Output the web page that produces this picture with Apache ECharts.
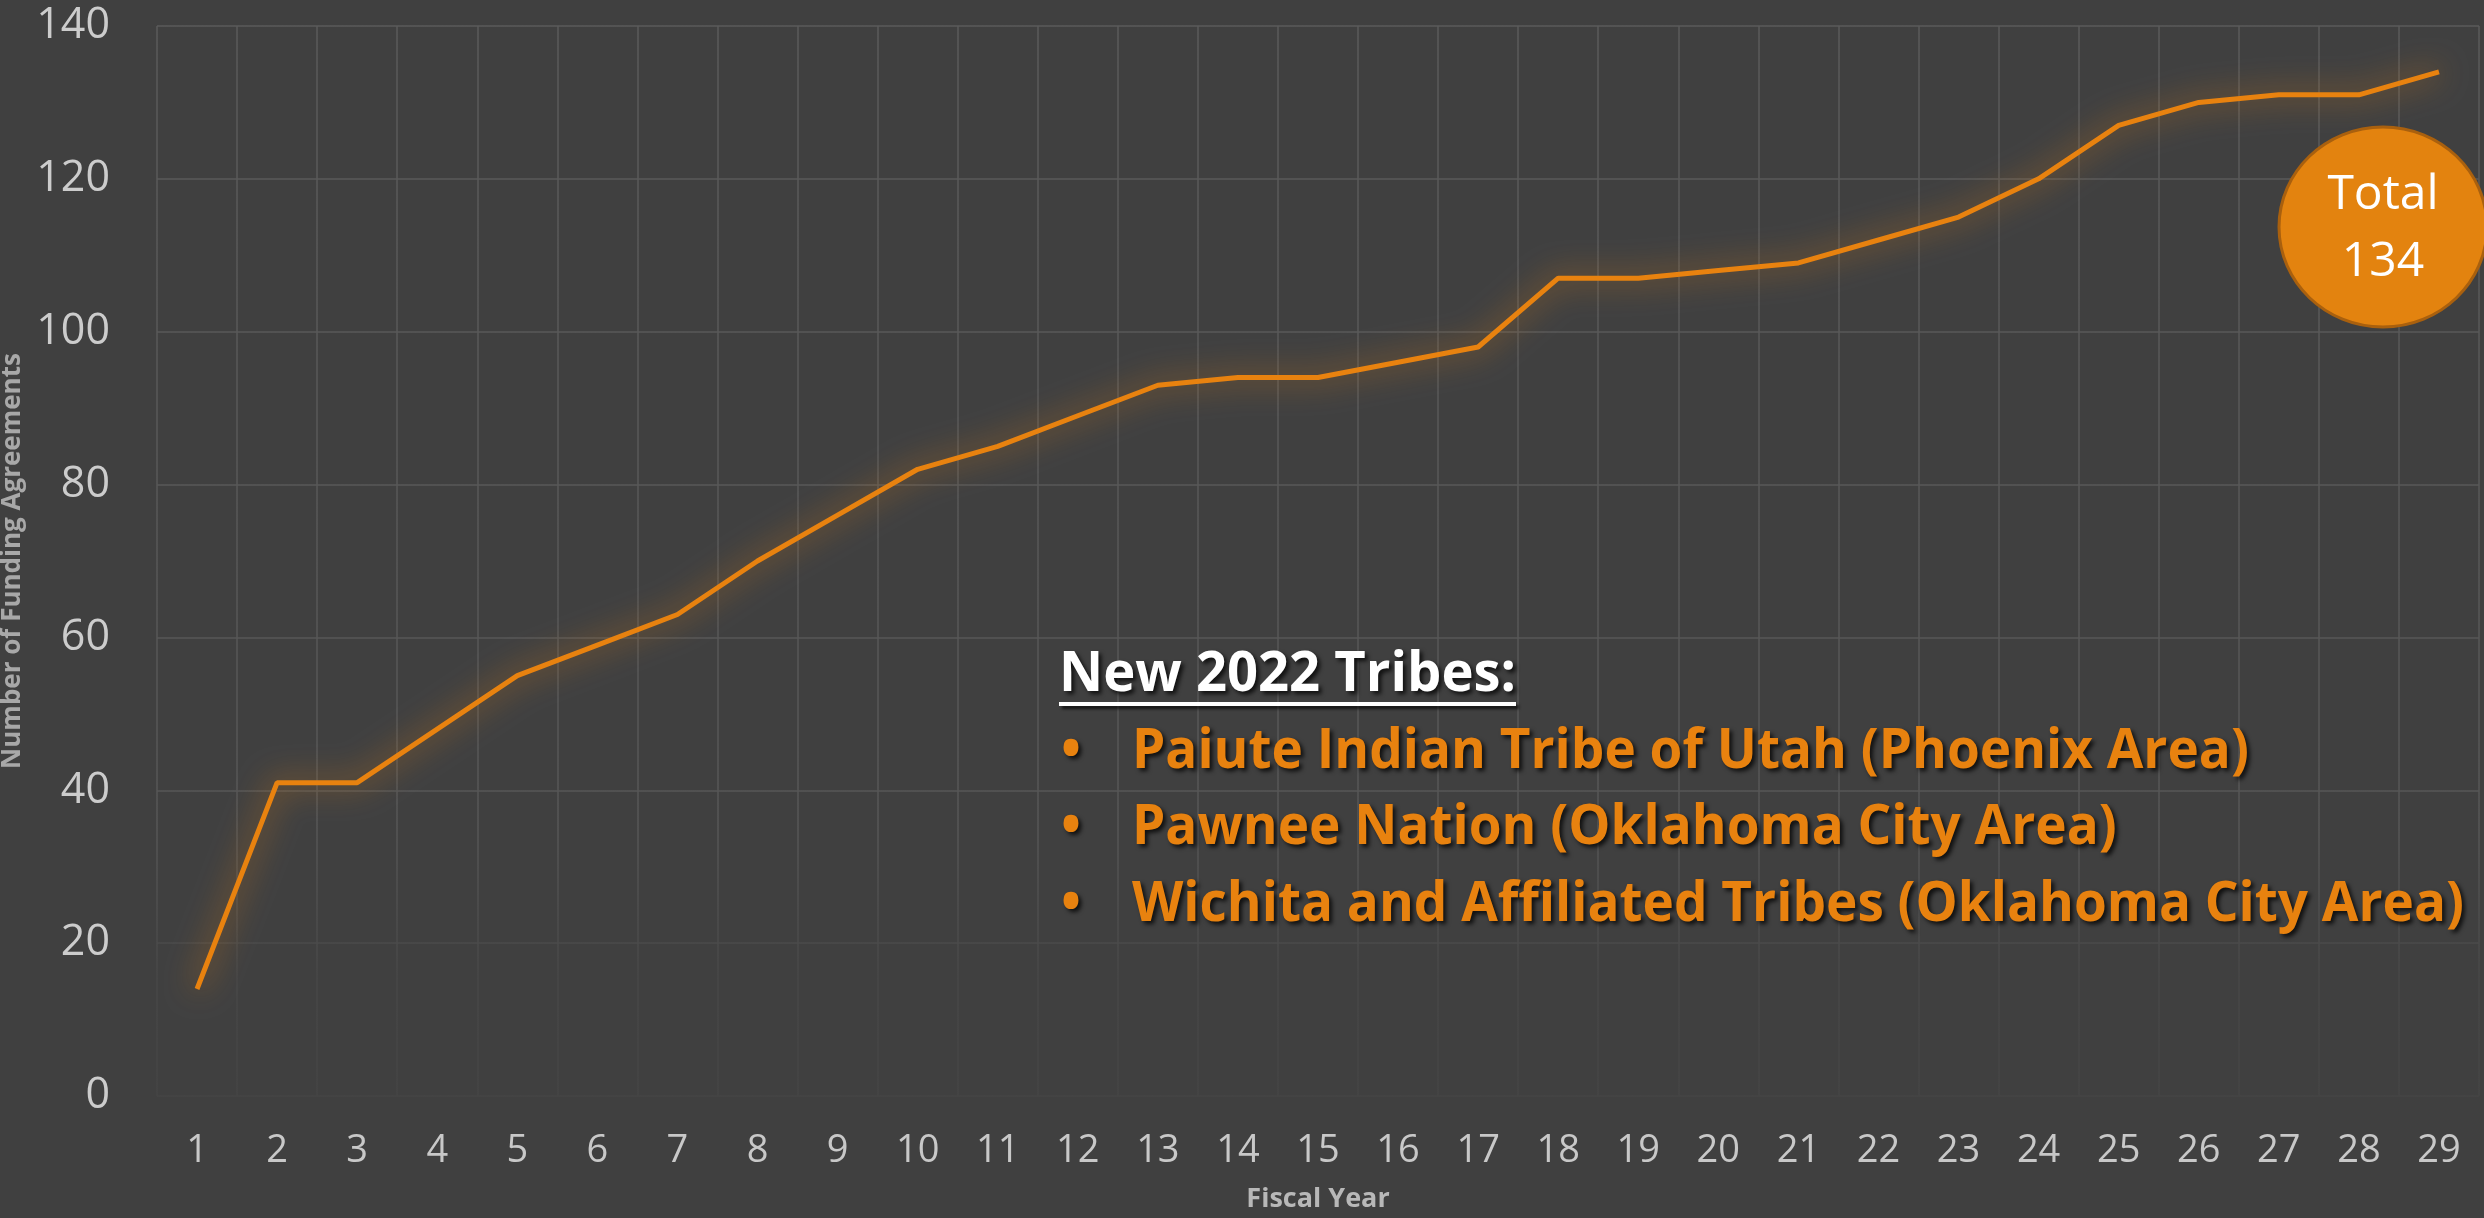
<!DOCTYPE html>
<html>
<head>
<meta charset="utf-8">
<script src="https://cdn.jsdelivr.net/npm/echarts@6/dist/echarts.min.js"></script>
<style>
  html, body { margin: 0; padding: 0; background: #404040; }
  #main { width: 2484px; height: 1218px; }
</style>
</head>
<body>
<div id="main"></div>
<script>
// fiscal years 1..29
var years = ['1', '2', '3', '4', '5', '6', '7', '8', '9', '10', '11', '12', '13', '14', '15',
  '16', '17', '18', '19', '20', '21', '22', '23', '24', '25', '26', '27', '28', '29'];
var agreements = [14, 41, 41, 48, 55, 59, 63, 70, 76, 82, 85, 89, 93, 94, 94,
  96, 98, 107, 107, 108, 109, 112, 115, 120, 127, 130, 131, 131, 134];
var yTicks = [0, 20, 40, 60, 80, 100, 120, 140];
var headerText = 'New 2022 Tribes:';
var newTribes = [
  'Paiute Indian Tribe of Utah (Phoenix Area)',
  'Pawnee Nation (Oklahoma City Area)',
  'Wichita and Affiliated Tribes (Oklahoma City Area)'
];
var totalLabel = ['Total', '134'];

var chart = echarts.init(document.getElementById('main'));

var orange = '#E8820F';
var boldFont = 'bold 56px "Open Sans", sans-serif';

// the original uses a condensed face; squeeze Open Sans to the original widths
var ctx = document.createElement('canvas').getContext('2d');
ctx.font = boldFont;
var headSqueeze = 457 / ctx.measureText(headerText).width;
var longest = newTribes.reduce(function (a, b) { return b.length > a.length ? b : a; });
var listSqueeze = 1332 / ctx.measureText(longest).width;

// grid lines fade out toward the bottom of the plot
var gridFade = {
  type: 'linear', x: 0, y: 0, x2: 0, y2: 1218, global: true,
  colorStops: [
    { offset: 0, color: '#5a5a5a' },
    { offset: 0.68, color: '#565656' },
    { offset: 0.8, color: '#474747' },
    { offset: 1, color: '#424242' }
  ]
};

var textShadow = {
  textShadowColor: 'rgba(0,0,0,0.75)',
  textShadowBlur: 4,
  textShadowOffsetX: 3,
  textShadowOffsetY: 3
};

var tribeTexts = [];
newTribes.forEach(function (name, i) {
  var y = 752 + i * 76.5;
  tribeTexts.push({
    type: 'text', x: 1071, y: y, z: 10, scaleX: listSqueeze,
    style: Object.assign({ text: '•', fill: orange, font: boldFont, align: 'center', verticalAlign: 'middle' }, textShadow)
  });
  tribeTexts.push({
    type: 'text', x: 1132, y: y, z: 10, scaleX: listSqueeze,
    style: Object.assign({ text: name, fill: orange, font: boldFont, verticalAlign: 'middle' }, textShadow)
  });
});

var option = {
  backgroundColor: '#404040',
  animation: false,
  grid: {
    left: 157,
    right: 5,
    top: 26,
    bottom: 122,
    outerBoundsMode: 'none'
  },
  xAxis: {
    type: 'category',
    data: years,
    boundaryGap: true,
    name: 'Fiscal Year',
    nameLocation: 'middle',
    nameGap: 90,
    nameTextStyle: {
      color: '#b8b8b8',
      fontFamily: '"Open Sans", sans-serif',
      fontWeight: 'bold',
      fontSize: 27
    },
    axisLine: { show: false },
    axisTick: { show: false },
    axisLabel: {
      color: '#c8c8c8',
      fontFamily: '"Open Sans", sans-serif',
      fontSize: 38,
      margin: 36,
      interval: 0
    },
    splitLine: {
      show: true,
      interval: 0,
      lineStyle: { color: gridFade, width: 1.5 }
    }
  },
  yAxis: {
    type: 'value',
    min: 0,
    max: 140,
    interval: 20,
    name: 'Number of Funding Agreements',
    nameLocation: 'middle',
    nameGap: 122,
    nameTextStyle: {
      color: '#a8a8a8',
      fontFamily: '"Open Sans", sans-serif',
      fontWeight: 'bold',
      fontSize: 26
    },
    axisLine: { show: false },
    axisTick: { show: false },
    axisLabel: {
      color: '#cccccc',
      fontFamily: '"Open Sans", sans-serif',
      fontSize: 43,
      margin: 47,
      formatter: function (v) { return yTicks.indexOf(v) >= 0 ? String(v) : ''; }
    },
    splitLine: {
      lineStyle: { color: gridFade, width: 1.5 }
    }
  },
  series: [{
    type: 'line',
    data: agreements,
    symbol: 'none',
    lineStyle: {
      color: orange,
      width: 5,
      shadowColor: 'rgba(232,130,15,0.85)',
      shadowBlur: 30
    },
    z: 3
  }],
  graphic: [
    {
      type: 'text', x: 1059, y: 675, z: 10, scaleX: headSqueeze,
      style: Object.assign({ text: headerText, fill: '#ffffff', font: boldFont, verticalAlign: 'middle' }, textShadow)
    },
    {
      type: 'rect', z: 10,
      shape: { x: 1059, y: 702, width: 457, height: 4 },
      style: { fill: '#ffffff', shadowColor: 'rgba(0,0,0,0.7)', shadowBlur: 3, shadowOffsetX: 3, shadowOffsetY: 3 }
    },
    {
      type: 'ellipse', z: 10,
      shape: { cx: 2383, cy: 227, rx: 104, ry: 100 },
      style: { fill: '#E3830F', stroke: '#A9600E', lineWidth: 3 }
    },
    {
      type: 'text', x: 2383, y: 195, z: 11,
      style: { text: totalLabel[0], fill: '#ffffff', font: '48px "Open Sans", sans-serif', align: 'center', verticalAlign: 'middle' }
    },
    {
      type: 'text', x: 2383, y: 262, z: 11,
      style: { text: totalLabel[1], fill: '#ffffff', font: '48px "Open Sans", sans-serif', align: 'center', verticalAlign: 'middle' }
    }
  ].concat(tribeTexts)
};

chart.setOption(option);
</script>
</body>
</html>
